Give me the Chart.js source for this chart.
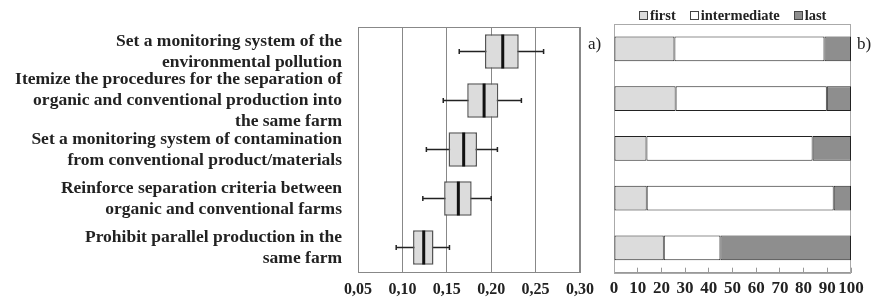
<!DOCTYPE html>
<html>
<head>
<meta charset="utf-8">
<script src="https://cdn.jsdelivr.net/npm/chart.js@4.4.1/dist/chart.umd.min.js"></script>
<style>
  html, body { margin: 0; padding: 0; background: #fff; }
  #wrap { position: relative; width: 872px; height: 297px; overflow: hidden; }
  #left { position: absolute; left: 0; top: 0; width: 600px; height: 297px; }
  #right { position: absolute; left: 600px; top: 0; width: 272px; height: 297px; }
  .tag { position: absolute; font: 17px "Liberation Serif", serif; color: #222; }
  #legend { position: absolute; left: 639px; top: 7px; display: flex; gap: 14px;
            font: bold 14.5px "Liberation Serif", serif; color: #222; line-height: 17px; }
  #legend span.item { display: flex; align-items: center; }
  #legend span.box { display: inline-block; width: 7px; height: 7px; border: 1px solid #444;
                     margin-right: 2px; }
</style>
</head>
<body>
<div id="wrap">
  <div id="left"><canvas id="boxChart"></canvas></div>
  <div id="right"><canvas id="rankChart"></canvas></div>
  <div id="legend"></div>
  <div class="tag" style="left:588px; top:34px;">a)</div>
  <div class="tag" style="left:857px; top:34px;">b)</div>
</div>
<script>
const categories = [
  ['Set a monitoring system of the', 'environmental pollution'],
  ['Itemize the procedures for the separation of', 'organic and conventional production into', 'the same farm'],
  ['Set a monitoring system of contamination', 'from conventional product/materials'],
  ['Reinforce separation criteria between', 'organic and conventional farms'],
  ['Prohibit parallel production in the', 'same farm']
];

// box plot values (left panel)
const whiskerMin = [0.164, 0.146, 0.127, 0.123, 0.093];
const q1 = [0.193, 0.173, 0.152, 0.147, 0.112];
const median = [0.213, 0.192, 0.169, 0.163, 0.124];
const q3 = [0.231, 0.208, 0.184, 0.178, 0.135];
const whiskerMax = [0.259, 0.234, 0.207, 0.200, 0.153];

// ranking shares in % (right panel)
const first = [25.5, 26.0, 13.7, 13.8, 21.0];
const intermediate = [63.3, 63.8, 70.1, 78.9, 23.9];
const last = [11.2, 10.2, 16.2, 7.3, 55.1];

const serif = '"Liberation Serif", "Times New Roman", serif';

// draws the box around the plot area
const frame = {
  id: 'frame',
  beforeDatasetsDraw(chart, args, opts) {
    const { ctx, chartArea: a } = chart;
    ctx.save();
    ctx.strokeStyle = opts.color || '#888';
    ctx.lineWidth = 1;
    ctx.strokeRect(Math.round(a.left) + 0.5, Math.round(a.top) + 0.5,
                   Math.round(a.right - a.left) - 1, Math.round(a.bottom - a.top));
    ctx.restore();
  }
};

// legend as html so it can sit exactly like the original one
const htmlLegend = {
  id: 'htmlLegend',
  afterUpdate(chart) {
    const box = document.getElementById('legend');
    box.innerHTML = '';
    const items = Chart.defaults.plugins.legend.labels.generateLabels(chart);
    items.forEach(it => {
      const el = document.createElement('span');
      el.className = 'item';
      const sw = document.createElement('span');
      sw.className = 'box';
      sw.style.background = it.fillStyle;
      el.appendChild(sw);
      el.appendChild(document.createTextNode(it.text));
      box.appendChild(el);
    });
  }
};

// drop the label overhang padding so layout.padding alone places the plot
const noOverhang = (axis) => {
  axis.paddingTop = 0; axis.paddingBottom = 0;
  axis.paddingLeft = 0; axis.paddingRight = 0;
};

new Chart(document.getElementById('boxChart'), {
  type: 'bar',
  plugins: [frame],
  data: {
    labels: categories,
    datasets: [
      {
        label: 'whisker',
        data: whiskerMin.map((v, i) => [v, whiskerMax[i]]),
        backgroundColor: '#222',
        borderWidth: 0,
        grouped: false,
        maxBarThickness: 1.5,
        order: 4
      },
      {
        label: 'box',
        data: q1.map((v, i) => [v, q3[i]]),
        backgroundColor: '#dcdcdc',
        borderColor: '#555',
        borderWidth: 1.5,
        borderSkipped: false,
        grouped: false,
        barPercentage: 0.7,
        categoryPercentage: 1,
        order: 3
      },
      {
        type: 'line',
        label: 'median',
        data: median,
        indexAxis: 'y',
        showLine: false,
        pointStyle: 'line',
        rotation: 90,
        pointRadius: 17,
        pointBorderWidth: 3,
        pointBorderColor: '#111',
        order: 2
      },
      {
        type: 'line',
        label: 'min',
        data: whiskerMin,
        indexAxis: 'y',
        showLine: false,
        pointStyle: 'line',
        rotation: 90,
        pointRadius: 2.5,
        pointBorderWidth: 1.5,
        pointBorderColor: '#222',
        order: 1
      },
      {
        type: 'line',
        label: 'max',
        data: whiskerMax,
        indexAxis: 'y',
        showLine: false,
        pointStyle: 'line',
        rotation: 90,
        pointRadius: 2.5,
        pointBorderWidth: 1.5,
        pointBorderColor: '#222',
        order: 1
      }
    ]
  },
  options: {
    indexAxis: 'y',
    responsive: true,
    maintainAspectRatio: false,
    animation: false,
    events: [],
    layout: { padding: { top: 27, right: 17, left: 0, bottom: 0 } },
    plugins: {
      legend: { display: false },
      tooltip: { enabled: false },
      frame: { color: '#888' }
    },
    scales: {
      x: {
        type: 'linear',
        min: 0.05,
        max: 0.30,
        ticks: {
          stepSize: 0.05,
          autoSkip: false,
          padding: 8,
          color: '#222',
          font: { family: serif, size: 16, weight: 'bold' },
          callback: (v) => v.toFixed(2).replace('.', ',')
        },
        grid: { color: '#888', drawTicks: false },
        border: { color: '#888' },
        afterFit: (axis) => { axis.height = 25; noOverhang(axis); }
      },
      y: {
        type: 'category',
        ticks: {
          autoSkip: false,
          padding: 16,
          color: '#222',
          font: { family: serif, size: 17.5, weight: 'bold', lineHeight: 1.2 }
        },
        grid: { display: false, drawTicks: false },
        border: { color: '#888' },
        afterFit: (axis) => { axis.width = 358; noOverhang(axis); }
      }
    }
  }
});

new Chart(document.getElementById('rankChart'), {
  type: 'bar',
  plugins: [frame, htmlLegend],
  data: {
    labels: categories.map((c, i) => i),
    datasets: [
      { label: 'first', data: first, backgroundColor: '#dcdcdc' },
      { label: 'intermediate', data: intermediate, backgroundColor: '#ffffff' },
      { label: 'last', data: last, backgroundColor: '#8e8e8e' }
    ].map(d => Object.assign(d, {
      borderColor: '#222',
      borderWidth: 1,
      borderSkipped: false,
      barPercentage: 0.5,
      categoryPercentage: 1
    }))
  },
  options: {
    indexAxis: 'y',
    responsive: true,
    maintainAspectRatio: false,
    animation: false,
    events: [],
    layout: { padding: { top: 24, right: 21, left: 14, bottom: 0 } },
    plugins: {
      legend: { display: false },
      tooltip: { enabled: false },
      frame: { color: '#aaa' }
    },
    scales: {
      x: {
        stacked: true,
        min: 0,
        max: 100,
        ticks: {
          stepSize: 10,
          autoSkip: false,
          maxRotation: 0,
          padding: 11,
          color: '#222',
          font: { family: serif, size: 17, weight: 'bold' }
        },
        grid: { drawOnChartArea: false, drawTicks: true, tickLength: -5, color: '#999' },
        border: { color: '#999' },
        afterFit: (axis) => { axis.height = 24.3; noOverhang(axis); }
      },
      y: {
        stacked: true,
        display: false
      }
    }
  }
});
</script>
</body>
</html>
